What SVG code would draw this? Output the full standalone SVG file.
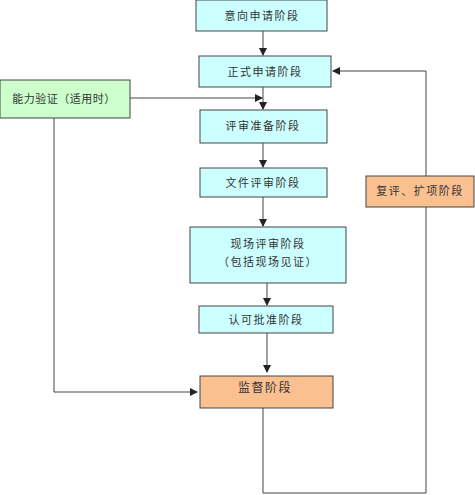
<svg xmlns="http://www.w3.org/2000/svg" width="475" height="495" viewBox="0 0 475 495">
<defs>
<marker id="ah" markerWidth="8" markerHeight="8" refX="7" refY="4" orient="auto" markerUnits="userSpaceOnUse">
<path d="M0,0 L8,4 L0,8 Z" fill="#222"/>
</marker>
</defs>
<style>
.b{stroke:#444;stroke-width:1}
.c{fill:#ccffff}
.g{fill:#ccffcc}
.o{fill:#fac090}
text{font-family:"Noto Sans CJK SC","Noto Sans CJK JP",sans-serif;font-size:11px;fill:#333;text-anchor:middle;letter-spacing:1.5px}
.l{fill:none;stroke:#444;stroke-width:1}
</style>
<rect width="475" height="495" fill="#fff"/>
<g id="connectors">
<line class="l" x1="263" y1="31" x2="263" y2="55" marker-end="url(#ah)"/>
<line class="l" x1="263" y1="87" x2="263" y2="109" marker-end="url(#ah)"/>
<line class="l" x1="130" y1="98" x2="262" y2="98" marker-end="url(#ah)"/>
<line class="l" x1="263" y1="143" x2="263" y2="167" marker-end="url(#ah)"/>
<line class="l" x1="263" y1="197" x2="263" y2="226" marker-end="url(#ah)"/>
<line class="l" x1="267" y1="283" x2="267" y2="305" marker-end="url(#ah)"/>
<line class="l" x1="267" y1="333" x2="267" y2="372" marker-end="url(#ah)"/>
<polyline class="l" points="54,118 54,392 197,392" marker-end="url(#ah)"/>
<polyline class="l" points="263,408 263,493 426,493 426,71 333,71" marker-end="url(#ah)"/>
</g>
<g id="n1"><rect class="b c" x="196" y="0" width="131" height="31"/><text x="262" y="20">意向申请阶段</text></g>
<g id="n2"><rect class="b c" x="199" y="56" width="132" height="31"/><text x="265" y="76">正式申请阶段</text></g>
<g id="n0"><rect class="b g" x="0" y="80" width="130" height="38"/><text x="64" y="103" style="letter-spacing:0.5px">能力验证（适用时）</text></g>
<g id="n3"><rect class="b c" x="200" y="110" width="127" height="33"/><text x="263" y="130">评审准备阶段</text></g>
<g id="n4"><rect class="b c" x="200" y="168" width="127" height="29"/><text x="263" y="187">文件评审阶段</text></g>
<g id="n5"><rect class="b c" x="190" y="227" width="156" height="56"/><text x="268" y="248">现场评审阶段</text><text x="268" y="266">（包括现场见证）</text></g>
<g id="n6"><rect class="b c" x="199" y="306" width="134" height="27"/><text x="266" y="324">认可批准阶段</text></g>
<g id="n7"><rect class="b o" x="200" y="376" width="133" height="32"/><text x="265" y="392" style="font-size:12px">监督阶段</text></g>
<g id="n8"><rect class="b o" x="366" y="176" width="108" height="31"/><text x="420" y="195">复评、扩项阶段</text></g>
</svg>
